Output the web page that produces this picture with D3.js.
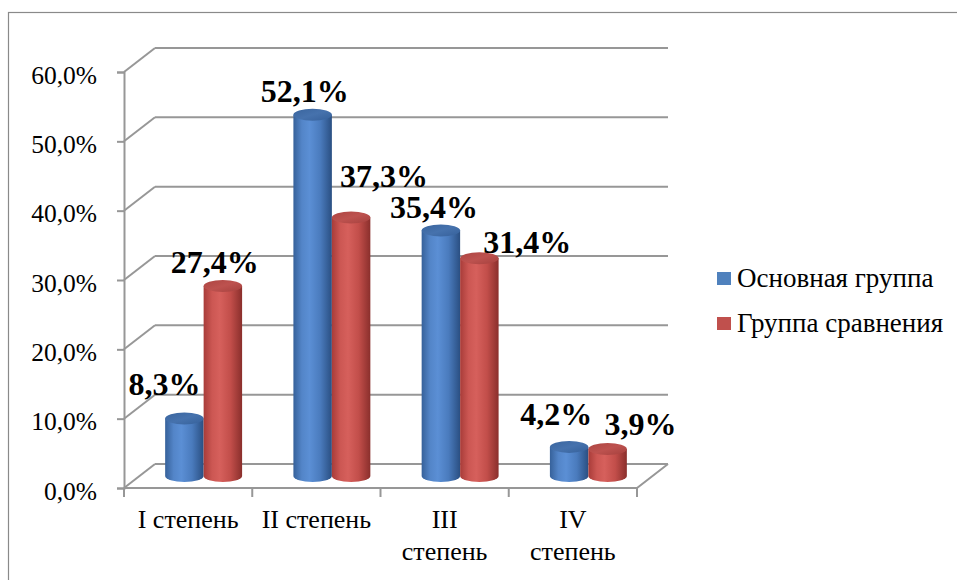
<!DOCTYPE html>
<html>
<head>
<meta charset="utf-8">
<script src="https://cdn.jsdelivr.net/npm/d3@7"></script>
<style>
  html, body { margin: 0; padding: 0; background: #fff; }
  svg { display: block; }
</style>
</head>
<body>
<svg id="chart" width="957" height="580"></svg>
<script>
// Degree categories and the two compared groups (percent of patients)
const categories = ["I степень", "II степень", "III степень", "IV степень"];
const seriesNames = ["Основная группа", "Группа сравнения"];
const mainGroup = [8.3, 52.1, 35.4, 4.2];
const comparisonGroup = [27.4, 37.3, 31.4, 3.9];
const yTicks = [0, 10, 20, 30, 40, 50, 60];

const series = [
  { name: seriesNames[0], values: mainGroup, key: "blue" },
  { name: seriesNames[1], values: comparisonGroup, key: "red" }
];

// Layout
const FONT = "'Liberation Serif', 'Times New Roman', serif";
const plot = { left: 124, right: 637, top: 72, bottom: 488 };
const depth = { dx: 31, dy: -24 };      // oblique depth of the 3D box
const barFrac = 0.3;                    // cylinder width as share of a category band
const ry = 6;                           // ellipse half-height of cylinder caps
const gridColor = "#979797";

// Per-point nudges of value labels [dx, dy] relative to the cylinder top
const labelNudge = [
  [[-20, -23], [-8, -13], [-7, -13], [-13, -22]],
  [[-8, -13], [33, -30], [48, -5], [33, -14]]
];

const fmt = v => d3.format(".1f")(v).replace(".", ",") + "%";

const svg = d3.select("#chart");

// Gradients for cylinder shading
const defs = svg.append("defs");
const palettes = {
  blue: { body: ["#36619a", "#5385c8", "#5b8fd5", "#4a7bbd", "#2a4f82"], cap: ["#3a659e", "#4672ad", "#35609a"] },
  red:  { body: ["#a83c39", "#cc5753", "#d6605c", "#c24e4a", "#8a2f2c"], cap: ["#ad4542", "#bd524f", "#a5403d"] }
};
Object.entries(palettes).forEach(([k, p]) => {
  const gb = defs.append("linearGradient").attr("id", "body-" + k).attr("x1", 0).attr("x2", 1).attr("y1", 0).attr("y2", 0);
  [0, 0.22, 0.42, 0.7, 1].forEach((o, i) => gb.append("stop").attr("offset", o).attr("stop-color", p.body[i]));
  const gc = defs.append("linearGradient").attr("id", "cap-" + k).attr("x1", 0).attr("x2", 1).attr("y1", 0).attr("y2", 1);
  [0, 0.5, 1].forEach((o, i) => gc.append("stop").attr("offset", o).attr("stop-color", p.cap[i]));
});

// Outer frame
svg.append("rect").attr("x", 8.5).attr("y", 12.5).attr("width", 1000).attr("height", 1000)
  .attr("fill", "none").attr("stroke", "#8a8a8a").attr("stroke-width", 1.2);

// Scales
const y = d3.scaleLinear().domain([0, 60]).range([plot.bottom, plot.top]);
const x = d3.scaleBand().domain(categories).range([plot.left, plot.right]).padding(0);
const bw = x.bandwidth() * barFrac;

const grid = svg.append("g").attr("stroke", gridColor).attr("stroke-width", 2).attr("fill", "none");

// Back wall gridlines and side wall diagonals
yTicks.forEach(t => {
  const yy = y(t);
  grid.append("line")
    .attr("x1", plot.left + depth.dx).attr("x2", plot.right + depth.dx)
    .attr("y1", yy + depth.dy).attr("y2", yy + depth.dy);
  grid.append("line")
    .attr("x1", plot.left).attr("y1", yy)
    .attr("x2", plot.left + depth.dx).attr("y2", yy + depth.dy);
});

// Floor outline
grid.append("path").attr("d", d3.line()([
  [plot.left, plot.bottom], [plot.right, plot.bottom],
  [plot.right + depth.dx, plot.bottom + depth.dy]
]));

// Category boundary ticks
const bounds = categories.map(c => x(c)).concat([plot.right]);
bounds.forEach(bx => {
  grid.append("line").attr("x1", bx).attr("x2", bx).attr("y1", plot.bottom).attr("y2", plot.bottom + 9);
});

// Value axis
const yAxis = d3.axisLeft(y).tickValues(yTicks).tickSize(7).tickPadding(20).tickFormat(fmt);
const ya = svg.append("g").attr("transform", `translate(${plot.left},0)`).call(yAxis);
ya.select(".domain").attr("stroke", gridColor).attr("stroke-width", 2);
ya.selectAll(".tick line").attr("stroke", gridColor).attr("stroke-width", 2);
ya.selectAll(".tick text").attr("dy", "0.44em")
  .style("font-family", FONT).style("font-size", "25.5px").attr("fill", "#000");

// Category labels, wrapped when wider than the band allows
const catG = svg.append("g");
categories.forEach(c => {
  const cx = x(c) + x.bandwidth() / 2;
  const t = catG.append("text").attr("text-anchor", "middle")
    .style("font-family", FONT).style("font-size", "26px")
    .attr("x", cx).attr("y", plot.bottom + 40);
  t.text(c);
  if (t.node().getComputedTextLength() > 114) {
    t.text(null);
    c.split(" ").forEach((w, i) => {
      t.append("tspan").attr("x", cx).attr("dy", i ? 32 : 0).text(w);
    });
  }
});

// Cylinders
const cylG = svg.append("g");
const centerX = (ci, si) => x(categories[ci]) + x.bandwidth() / 2 + depth.dx / 2 + (si - 0.5) * bw;
const midDy = depth.dy / 2;

categories.forEach((c, ci) => {
  series.forEach((s, si) => {
    const v = s.values[ci];
    const cx = centerX(ci, si);
    const x0 = cx - bw / 2, x1 = cx + bw / 2;
    const yTop = y(v) + midDy, yBot = y(0) + midDy;
    const rx = bw / 2;
    cylG.append("path")
      .attr("d", `M${x0},${yTop} L${x0},${yBot} A${rx},${ry} 0 0 0 ${x1},${yBot} L${x1},${yTop} Z`)
      .attr("fill", `url(#body-${s.key})`);
    cylG.append("ellipse")
      .attr("cx", cx).attr("cy", yTop).attr("rx", rx).attr("ry", ry)
      .attr("fill", `url(#cap-${s.key})`);
  });
});

// Value labels
const lblG = svg.append("g");
categories.forEach((c, ci) => {
  series.forEach((s, si) => {
    const v = s.values[ci];
    const [ndx, ndy] = labelNudge[si][ci];
    lblG.append("text")
      .attr("x", centerX(ci, si) + ndx)
      .attr("y", y(v) + midDy + ndy)
      .attr("text-anchor", "middle")
      .style("font-family", FONT).style("font-size", "32px").style("font-weight", "bold")
      .text(fmt(v));
  });
});

// Legend
const legend = svg.append("g").attr("transform", "translate(717,272)");
series.forEach((s, i) => {
  const g = legend.append("g").attr("transform", `translate(0,${i * 45})`);
  g.append("rect").attr("width", 14).attr("height", 13)
    .attr("fill", s.key === "blue" ? "#4f81bd" : "#c0504d");
  g.append("text").attr("x", 20).attr("y", 15)
    .style("font-family", FONT).style("font-size", "27px").text(s.name);
});
</script>
</body>
</html>
